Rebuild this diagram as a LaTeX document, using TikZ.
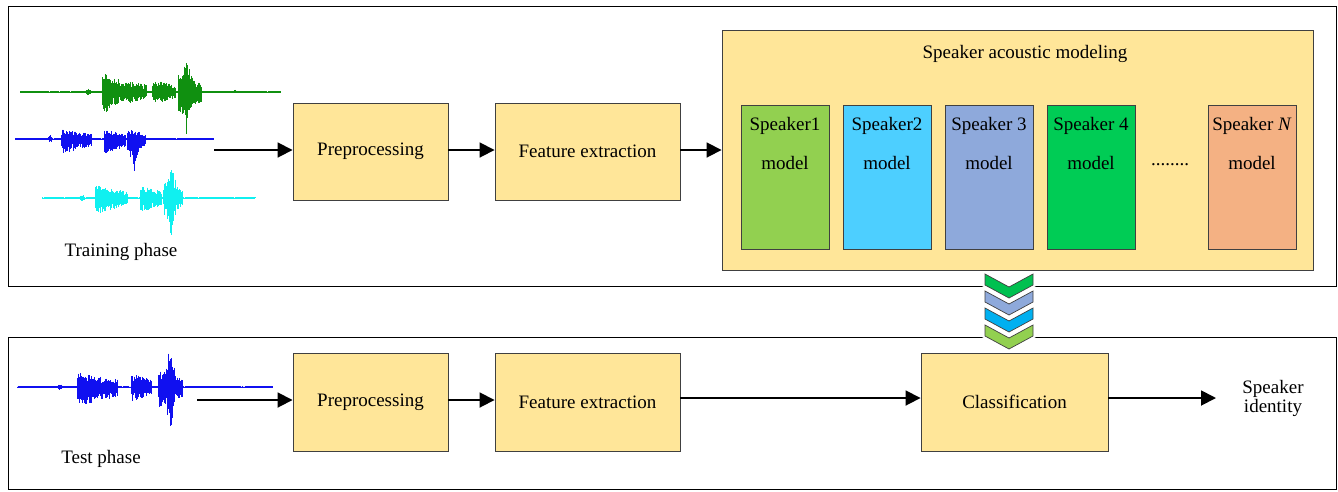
\documentclass[tikz,border=0pt]{standalone}
\usepackage{fontspec}
\setmainfont{Liberation Serif}
\usetikzlibrary{arrows.meta}
\definecolor{boxfill}{HTML}{FFE699}
\definecolor{cA}{HTML}{92D050}
\definecolor{cB}{HTML}{4DCFFF}
\definecolor{cC}{HTML}{8EA9DB}
\definecolor{cD}{HTML}{00CC55}
\definecolor{cN}{HTML}{F4B183}
\definecolor{chevG}{HTML}{00C050}
\definecolor{chevC}{HTML}{00B0F0}
\definecolor{wgreen}{HTML}{109010}
\definecolor{wblue}{HTML}{1010F0}
\definecolor{wcyan}{HTML}{10F0F0}
\definecolor{edge}{HTML}{404040}
\tikzset{
  x=1pt, y=-1pt,
  every node/.style={font=\fontsize{19}{22}\selectfont},
  box/.style={draw=edge, line width=0.9pt, fill=boxfill, inner sep=0pt},
  mbox/.style={draw=edge, line width=0.9pt, inner sep=0pt, minimum width=88, minimum height=144},
  frame/.style={draw=black, line width=0.9pt},
  arr/.style={line width=1.8pt, -{Triangle[length=15pt,width=15pt]}},
  chev/.style={draw=edge, line width=0.7pt},
  declare function={tri(\t,\c,\w)=max(0,1-abs(\t-\c)/\w);
                    pl(\t,\a,\b)=(\t>\a)*(\t<\b)*(1-0.55*(\t-\a)/(\b-\a));}
}
\newcommand\mywave[6]{%
  \draw[#1, line width=0.8pt] (#2,#4) -- (#3,#4);
  \foreach \x in {#2,#2.5,...,#3}{%
    \pgfmathsetmacro\eu{#5}%
    \pgfmathsetmacro\ed{#6}%
    \pgfmathsetmacro\uu{\eu*(0.35+0.65*rnd)}%
    \pgfmathsetmacro\dd{\ed*(0.35+0.65*rnd)}%
    \draw[#1, line width=0.8pt] (\x,#4-\uu) -- (\x,#4+\dd);
  }%
}
\begin{document}
\begin{tikzpicture}
\pgfmathsetseed{7}
\useasboundingbox (0,0) rectangle (1338,491);
% frames
\draw[frame] (8,6) rectangle (1336,286);
\draw[frame] (8,337) rectangle (1336,489);

% waveforms
\mywave{wgreen}{20}{280}{92}
 {1+15*pl(\x,102,147)+6*tri(\x,106,5)+12*pl(\x,152,176)+18*pl(\x,178,202)+20*tri(\x,187,6)+3*tri(\x,88,3)+2*tri(\x,235,2)}
 {1+15*pl(\x,102,147)+6*tri(\x,106,5)+12*pl(\x,152,176)+20*pl(\x,178,202)+26*tri(\x,186,5)+3*tri(\x,88,3)}
\mywave{wblue}{15}{213}{139}
 {1+9*pl(\x,61,92)+9*pl(\x,104,126)+9*pl(\x,127,146)+3*tri(\x,50,3)}
 {1+14*pl(\x,61,92)+14*pl(\x,104,126)+14*pl(\x,127,146)+20*tri(\x,134,5)+3*tri(\x,50,3)}
\mywave{wcyan}{42}{255}{198}
 {1+12*pl(\x,95,128)+12*pl(\x,140,162)+15*pl(\x,163,183)+21*tri(\x,172,6)+3*tri(\x,82,3)}
 {1+15*pl(\x,95,128)+14*pl(\x,140,162)+17*pl(\x,163,183)+27*tri(\x,171,5)+3*tri(\x,82,3)}
\mywave{wblue}{17}{272}{387}
 {1+14*pl(\x,77,118)+13*pl(\x,131,152)+16*pl(\x,158,183)+27*tri(\x,170,6)+3*tri(\x,60,3)}
 {1+19*pl(\x,77,118)+14*pl(\x,131,152)+20*pl(\x,158,183)+35*tri(\x,170,5)+3*tri(\x,60,3)}

\node (trainlbl) at (121,252) {Training phase};
\node (testlbl) at (101,459) {Test phase};

% top row
\coordinate (wavein1) at (214,150);
\node[box, minimum width=155, minimum height=97] (pre1) at (370.5,151.5) {Preprocessing};
\node[box, minimum width=185, minimum height=97] (fe1) at (587.5,151.5) {Feature extraction};
\node[box, minimum width=591, minimum height=240] (sam) at (1017.5,150) {};
\node (samlbl) at (1025,54) {Speaker acoustic modeling};
\draw[arr] (wavein1) -- (pre1.west |- wavein1);
\draw[arr] (pre1.east |- wavein1) -- (fe1.west |- wavein1);
\draw[arr] (fe1.east |- wavein1) -- (sam.west |- wavein1);

% models
\node[mbox, fill=cA] (m1) at (785,177) {};
\node[mbox, fill=cB] (m2) at (887,177) {};
\node[mbox, fill=cC] (m3) at (989,177) {};
\node[mbox, fill=cD] (m4) at (1091,177) {};
\node[mbox, fill=cN] (mN) at (1252,177) {};
\foreach \m/\t in {m1/Speaker1, m2/Speaker2, m3/Speaker 3, m4/Speaker 4, mN/Speaker \textit{N}}{
  \node (\m t) at ([yshift=-21]\m.north) {\t};
  \node (\m s) at ([yshift=-58]\m.north) {model};
}
\node (dots) at (1170,165) {........};

% bottom row
\coordinate (wavein2) at (197,400);
\node[box, minimum width=155, minimum height=98] (pre2) at (370.5,402) {Preprocessing};
\node[box, minimum width=185, minimum height=98] (fe2) at (587.5,402) {Feature extraction};
\node[box, minimum width=187, minimum height=98] (cls) at (1014.5,402) {Classification};
\node[align=center, font=\fontsize{19}{19}\selectfont] (sid) at (1273,398) {Speaker\\identity};
\draw[arr] (wavein2) -- (pre2.west |- wavein2);
\draw[arr] (pre2.east |- wavein2) -- (fe2.west |- wavein2);
\draw[arr] (fe2.east |- 0,398) -- (cls.west |- 0,398);
\draw[arr] (cls.east |- 0,398) -- (1216,398);

% chevrons
\foreach \t/\c in {274/chevG, 291/cC, 308/chevC, 325/cA}{
  \fill[white] (982,\t-2) -- (1009,\t+11) -- (1036,\t-2) -- (1036,\t+12) -- (1009,\t+26) -- (982,\t+12) -- cycle;
  \draw[chev, fill=\c] (985,\t) -- (1009,\t+13) -- (1033,\t) -- (1033,\t+11) -- (1009,\t+24) -- (985,\t+11) -- cycle;
}
\end{tikzpicture}
\end{document}
